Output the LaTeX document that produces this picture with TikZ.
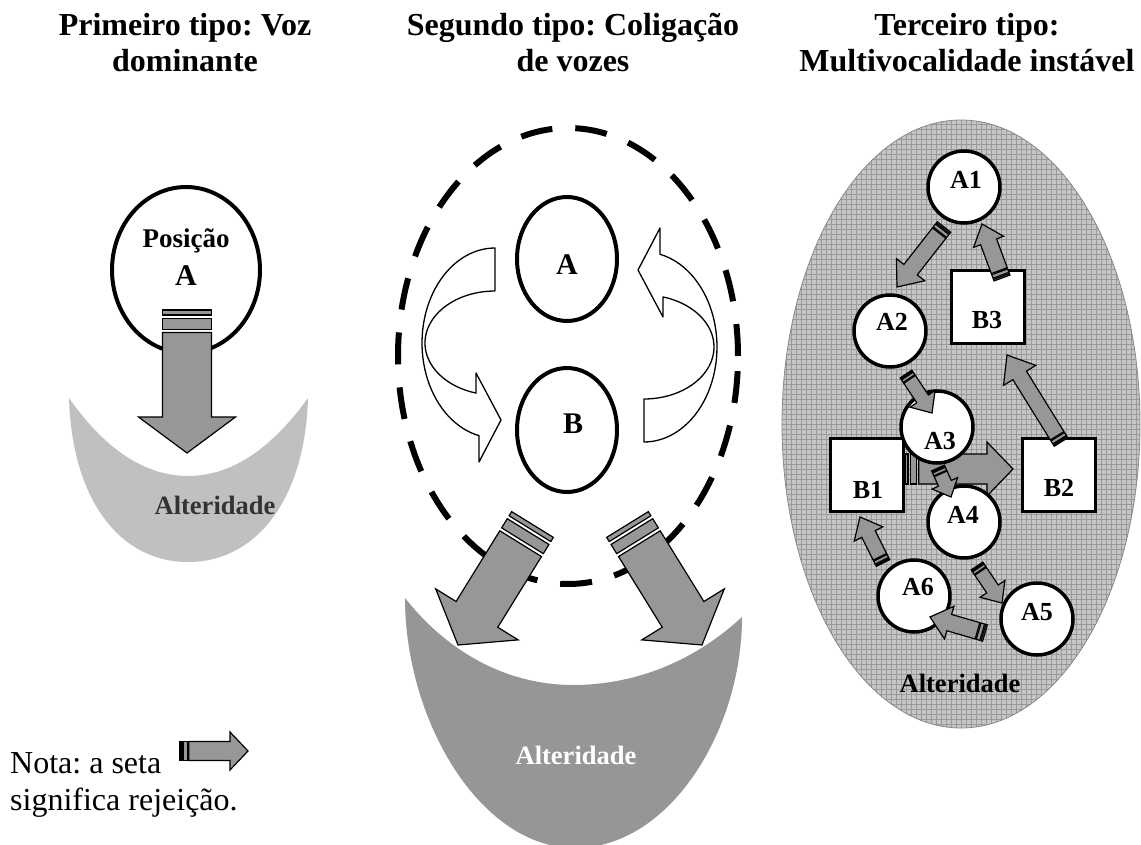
\documentclass[tikz,border=0pt]{standalone}
\usepackage{fontspec}
\setmainfont{Liberation Serif}
\frenchspacing
\usetikzlibrary{calc,shapes.geometric}
\definecolor{arrowgray}{HTML}{979797}
\definecolor{darkmoon}{HTML}{969696}
\definecolor{lightmoon}{HTML}{C0C0C0}
\definecolor{patbase}{HTML}{C6C6C6}
\definecolor{patline}{HTML}{999999}
\definecolor{patborder}{HTML}{8A8A8A}
\definecolor{txtdark}{HTML}{333333}

% rejection arrow: #1 tail, #2 tip, #3 shaft width, #4 head width, #5 head length
\newcommand{\rejarrow}[5]{%
  \pgfmathsetmacro{\rjw}{#3/2}%
  \pgfmathsetmacro{\rjh}{#4/2}%
  \pgfmathsetmacro{\rja}{0.10*#3}%
  \pgfmathsetmacro{\rjb}{0.17*#3}%
  \pgfmathsetmacro{\rjc}{0.39*#3}%
  \pgfmathsetmacro{\rjd}{0.46*#3}%
  \filldraw[rej] ($(#1)!\rjw pt!90:(#2)$) -- ($(#1)!\rjw pt!-90:(#2)$)
     -- ($(#1)!\rja pt!(#2)!\rjw pt!-90:(#2)$) -- ($(#1)!\rja pt!(#2)!\rjw pt!90:(#2)$) -- cycle;
  \filldraw[rej] ($(#1)!\rjb pt!(#2)!\rjw pt!90:(#2)$) -- ($(#1)!\rjb pt!(#2)!\rjw pt!-90:(#2)$)
     -- ($(#1)!\rjc pt!(#2)!\rjw pt!-90:(#2)$) -- ($(#1)!\rjc pt!(#2)!\rjw pt!90:(#2)$) -- cycle;
  \filldraw[rej] ($(#1)!\rjd pt!(#2)!\rjw pt!90:(#2)$)
     -- ($(#2)!#5pt!(#1)!\rjw pt!-90:(#1)$)
     -- ($(#2)!#5pt!(#1)!\rjh pt!-90:(#1)$)
     -- (#2)
     -- ($(#2)!#5pt!(#1)!\rjh pt!90:(#1)$)
     -- ($(#2)!#5pt!(#1)!\rjw pt!90:(#1)$)
     -- ($(#1)!\rjd pt!(#2)!\rjw pt!-90:(#2)$) -- cycle;
}

\begin{document}
\begin{tikzpicture}[x=1pt,y=-1pt,
  ttl/.style={font=\fontsize{32}{36}\selectfont\bfseries, align=center, anchor=base, inner sep=0pt},
  rej/.style={fill=arrowgray, draw=black, line width=1.2pt, line join=miter},
  oval/.style={draw, ellipse, line width=4pt, fill=white, inner sep=0pt},
  curvarrow/.style={draw=black, fill=white, line width=1.3pt, line join=round},
  cir/.style={draw, circle, fill=white, line width=3.5pt, minimum size=72pt, inner sep=0pt},
  sq/.style={draw, rectangle, fill=white, line width=3.5pt, minimum size=73pt, inner sep=0pt},
  plbl/.style={font=\fontsize{26}{30}\selectfont\bfseries, inner sep=0pt},
  alt/.style={font=\fontsize{26.5}{30}\selectfont\bfseries, inner sep=0pt},
  biglbl/.style={font=\fontsize{30}{30}\selectfont\bfseries, inner sep=0pt, anchor=base},
]
\useasboundingbox (0,0) rectangle (1141,845);
\fill[white] (0,0) rectangle (1141,845);

% ---------- titles (anchor base = last line) ----------
\node[ttl] (t1) at (185,72) {Primeiro tipo: Voz\\dominante};
\node[ttl] (t2) at (573,72) {Segundo tipo: Coligação\\de vozes};
\node[ttl] (t3) at (967,72) {Terceiro tipo:\\Multivocalidade instável};

% ---------- panel 1 ----------
\fill[lightmoon] (69,398) .. controls (72,500) and (120,562) .. (188,562)
   .. controls (256,562) and (305,500) .. (308,398)
   .. controls (272,448) and (232,476) .. (188,476)
   .. controls (144,476) and (104,448) .. (69,398) -- cycle;
\node[alt, text=txtdark] (alt1) at (215,505) {Alteridade};
\node[oval, minimum width=148pt, minimum height=166pt] (posA) at (186,270) {};
\node[font=\fontsize{27}{30}\selectfont\bfseries, inner sep=0pt, anchor=base] (posAt) at (186,248) {Posição};
\node[biglbl] (posAl) at (186,285) {A};
\coordinate (r1t) at (187,310);
\coordinate (r1h) at (187,453);
\rejarrow{r1t}{r1h}{49}{97}{36}

% ---------- panel 2 ----------
\fill[darkmoon] (405,598) .. controls (405,720) and (480,848) .. (575,848)
   .. controls (670,848) and (742,730) .. (742,617)
   .. controls (690,665) and (630,685) .. (573,685)
   .. controls (510,685) and (450,655) .. (405,598) -- cycle;
\node[alt, text=white] (alt2) at (576,755) {Alteridade};
\node[draw, ellipse, line width=6pt, dash pattern=on 32pt off 23pt, minimum width=340pt, minimum height=456pt, inner sep=0pt] (coal) at (568,356) {};
\node[oval, minimum width=100pt, minimum height=124pt] (vA) at (567,259) {};
\node[biglbl] (vAl) at (567,275) {A};
\node[oval, minimum width=100pt, minimum height=124pt] (vB) at (567,430) {};
\node[biglbl] (vBl) at (573,433) {B};
% curved arrows
\draw[curvarrow] (495,248) -- plot[domain=90:257.35, samples=50] ({495+73*cos(\x)},{343-95*sin(\x)})
   -- (479,462) -- (501,420) -- (476,373)
   -- plot[domain=254.3:90, samples=50] ({495+70*cos(\x)},{343-52*sin(\x)}) -- cycle;
\begin{scope}[rotate around={180:(569.5,345)}]
\draw[curvarrow] (495,248) -- plot[domain=90:257.35, samples=50] ({495+73*cos(\x)},{343-95*sin(\x)})
   -- (479,462) -- (501,420) -- (476,373)
   -- plot[domain=254.3:90, samples=50] ({495+70*cos(\x)},{343-52*sin(\x)}) -- cycle;
\end{scope}
\coordinate (r2lt) at (532.5,524.5);
\coordinate (r2lh) at (458,645);
\coordinate (r2rt) at (627.5,524.5);
\coordinate (r2rh) at (702,645);
\rejarrow{r2lt}{r2lh}{49}{97}{36}
\rejarrow{r2rt}{r2rh}{49}{97}{36}

% ---------- panel 3 ----------
\node[ellipse, draw=patborder, line width=0.8pt, fill=patbase, minimum width=358pt, minimum height=608pt, inner sep=0pt,
  path picture={\draw[patline, line width=0.5pt, step=5pt] (path picture bounding box.south west) grid (path picture bounding box.north east);}] (multi) at (961,424) {};
\node[alt] (alt3) at (960,683) {Alteridade};

\node[sq] (B1) at (867,475) {};
\node[sq] (B2) at (1059,475) {};
\node[sq] (B3) at (988,307) {};
\coordinate (a9t) at (905,469);
\coordinate (a9h) at (1013,469);
\rejarrow{a9t}{a9h}{30}{54}{26}

\node[cir] (A1) at (964,187) {};
\node[cir] (A2) at (890,331) {};
\node[cir] (A3) at (937,427) {};
\node[cir] (A4) at (964,522) {};
\node[cir] (A5) at (1037,619) {};
\node[cir] (A6) at (914,596) {};

\node[plbl] (A1l) at (966,180) {A1};
\node[plbl] (A2l) at (892,322) {A2};
\node[plbl] (A3l) at (940,441) {A3};
\node[plbl] (A4l) at (963,515) {A4};
\node[plbl] (A5l) at (1037,612) {A5};
\node[plbl] (A6l) at (918,587) {A6};
\node[plbl] (B1l) at (868,490) {B1};
\node[plbl] (B2l) at (1059,488) {B2};
\node[plbl] (B3l) at (987,320) {B3};

\coordinate (a1t) at (944,227);  \coordinate (a1h) at (897,287);
\coordinate (a2t) at (1002,278); \coordinate (a2h) at (982,224);
\coordinate (a3t) at (906,374);  \coordinate (a3h) at (932,413);
\coordinate (a4t) at (1061,442); \coordinate (a4h) at (1007,355);
\coordinate (a5t) at (938,468);  \coordinate (a5h) at (951,497);
\coordinate (a6t) at (977,566);  \coordinate (a6h) at (1002,603);
\coordinate (a7t) at (883,563);  \coordinate (a7h) at (860,517);
\coordinate (a8t) at (985,633);  \coordinate (a8h) at (930,617);
\rejarrow{a1t}{a1h}{17}{36}{22}
\rejarrow{a2t}{a2h}{17}{32}{19}
\rejarrow{a3t}{a3h}{14}{30}{17}
\rejarrow{a4t}{a4h}{16}{38}{24}
\rejarrow{a5t}{a5h}{14}{28}{15}
\rejarrow{a6t}{a6h}{14}{30}{17}
\rejarrow{a7t}{a7h}{15}{32}{19}
\rejarrow{a8t}{a8h}{17}{34}{20}

% ---------- note (anchor base = last line) ----------
\node[font=\fontsize{32}{37}\selectfont, align=left, anchor=base west, inner sep=0pt] (note) at (10,810) {Nota: a seta\\significa rejeição.};
\coordinate (nt) at (180,751);
\coordinate (nh) at (248,751);
\rejarrow{nt}{nh}{19}{38}{18}
\end{tikzpicture}
\end{document}
